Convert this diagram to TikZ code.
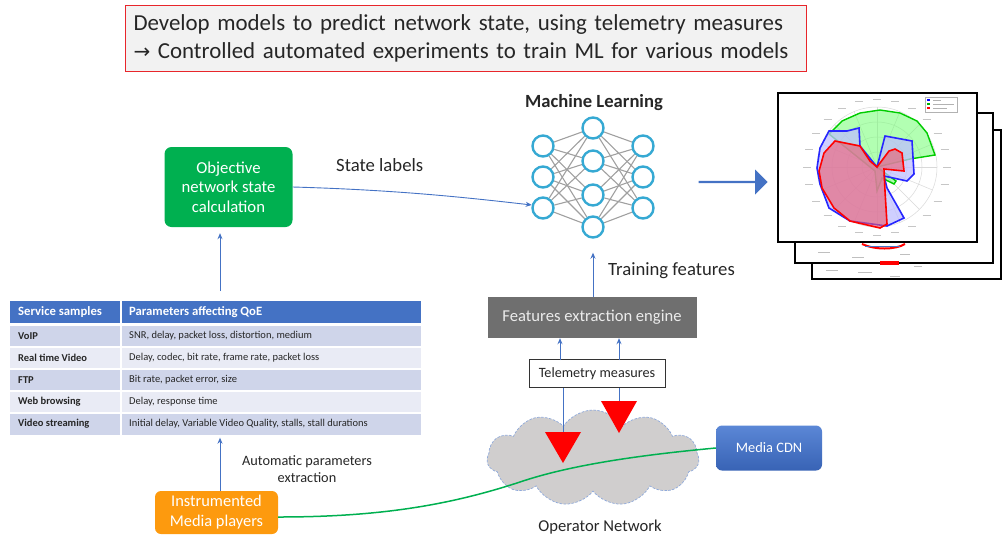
\documentclass[tikz,border=0pt]{standalone}
\usepackage{fontspec}
\setmainfont{Carlito}
\newfontfamily\symfont{DejaVu Sans}
\usetikzlibrary{shapes.symbols,shapes.arrows,shapes.geometric,arrows.meta,backgrounds}
\definecolor{goalfill}{HTML}{F2F2F2}
\definecolor{goalred}{HTML}{E8262B}
\definecolor{okgreen}{HTML}{00B050}
\definecolor{orangebox}{HTML}{FD9A0E}
\definecolor{accblue}{HTML}{4472C4}
\definecolor{accblueL}{HTML}{5B87D6}
\definecolor{accblueD}{HTML}{3863B5}
\definecolor{featgray}{HTML}{6F6F6F}
\definecolor{cloudgray}{HTML}{D0CECE}
\definecolor{cloudedge}{HTML}{8EA9DB}
\definecolor{bandA}{HTML}{CFD5EA}
\definecolor{bandB}{HTML}{E9EBF5}
\definecolor{neuroncol}{HTML}{36A9D3}
\definecolor{edgecol}{HTML}{A0A0A0}
\definecolor{txtdark}{HTML}{262626}
\tikzset{
  conn/.style={draw=accblue, line width=0.9pt, -{Stealth[length=6pt,width=5pt]}},
  plainconn/.style={draw=accblue, line width=0.9pt},
  roundbox/.style={rounded corners=7pt, text=white, align=center, inner sep=0pt},
  neuron/.style={circle, draw=neuroncol, line width=2.4pt, fill=white, minimum size=21pt, inner sep=0pt},
  nnedge/.style={draw=edgecol, line width=1.1pt},
  cellhead/.style={anchor=west, text=white, font=\fontsize{12.7}{14}\selectfont\bfseries, inner sep=0pt},
  cellkey/.style={anchor=west, text=txtdark, font=\fontsize{10.5}{12}\selectfont\bfseries, inner sep=0pt},
  cellval/.style={anchor=west, text=txtdark, font=\fontsize{10.5}{12}\selectfont, inner sep=0pt},
  lbl/.style={text=txtdark, inner sep=0pt},
  bigfont/.style={font=\fontsize{18.7}{22}\selectfont},
  page/.style={draw=black, line width=1.1pt, fill=white},
  redtri/.style={fill=red},
}
\begin{document}
\begin{tikzpicture}[x=1pt,y=-1pt]
\useasboundingbox (0,0) rectangle (1003,539);

% ---------- goal box ----------
\node[draw=goalred, line width=1pt, fill=goalfill, anchor=north west,
      minimum width=681pt, minimum height=66pt, text width=665pt, inner xsep=8pt,
      align=left, font=\fontsize{22.9}{28}\selectfont, text=txtdark] (goal) at (125,5)
  {Develop models to predict network state, using telemetry measures\\
   {\symfont\fontsize{20}{28}\selectfont →} Controlled automated experiments to train ML for various models};

% ---------- objective box ----------
\node[roundbox, fill=okgreen, minimum width=128pt, minimum height=80pt,
      font=\fontsize{16.7}{19.5}\selectfont] (obj) at (228.5,187)
  {Objective\\network state\\calculation};
\node[lbl, bigfont, anchor=west] (statelbl) at (336,165) {State labels};

% ---------- neural network ----------
\node[font=\fontsize{18.6}{22}\selectfont\bfseries, lbl] (mltitle) at (594,103) {Machine Learning};
\node[neuron] (l1) at (543,146) {};
\node[neuron] (l2) at (543,177) {};
\node[neuron] (l3) at (543,208) {};
\node[neuron] (m1) at (593,128) {};
\node[neuron] (m2) at (593,161) {};
\node[neuron] (m3) at (593,195) {};
\node[neuron] (m4) at (593,227) {};
\node[neuron] (r1) at (643,146) {};
\node[neuron] (r2) at (643,177) {};
\node[neuron] (r3) at (643,208) {};
\begin{scope}[on background layer]
\foreach \a in {l1,l2,l3} \foreach \b in {m1,m2,m3,m4} \draw[nnedge] (\a) -- (\b);
\foreach \a in {r1,r2,r3} \foreach \b in {m1,m2,m3,m4} \draw[nnedge] (\a) -- (\b);
\end{scope}

\draw[conn] (obj.east) .. controls (400,190) and (470,198) .. (l3.165);

% ---------- block arrow ----------
\node[single arrow, fill=accblue, minimum width=25pt, minimum height=69pt,
      single arrow head extend=2pt, single arrow tip angle=90, inner sep=0pt] (bigarrow) at (732.5,182) {};

% ---------- radar chart pages ----------
\draw[page] (812,130) rectangle (1001,279);
\draw[page] (795,113) rectangle (993,263);
\fill[red] (880,261) rectangle (899,265);
\draw[red, line width=2pt] (862,244) .. controls (875,250) and (895,250) .. (905,244);
\draw[accblue, line width=1pt] (865,246) -- (900,246);
\draw[gray!50, line width=0.8pt] (818,252) -- (830,252) (852,257) -- (864,257) (900,254) -- (910,254)
  (826,270) -- (838,270) (858,272) -- (872,272) (890,276) -- (900,276) (914,266) -- (922,266);
\draw[page] (778,93) rectangle (977,242);

\begin{scope}[shift={(877,167)}]
  \foreach \r in {15,30,45,60} \draw[gray!30, line width=0.5pt] (0,0) circle[radius=\r];
  \foreach \a in {0,22.5,...,337.5} \draw[gray!30, line width=0.5pt] (0,0) -- ({60*cos(\a)},{60*sin(\a)});
  \filldraw[fill=green!55!white, fill opacity=0.55, draw=green!80!black, line width=1.4pt, draw opacity=1]
    (-48,-33) -- (-35,-46) -- (-17,-54) -- (3,-57) -- (23,-54) -- (40,-46) -- (50,-34) -- (58,-12)
    -- (33,-8) -- (0,0) -- (19,14) -- (17,17) -- (5,11) -- (0,24) -- (-2,4) -- cycle;
  \filldraw[fill=blue!25!white, fill opacity=0.75, draw=blue!85!white, line width=1.6pt]
    (-48,-36) -- (-30,-36) -- (-18,-39) -- (-17,-21) -- (0,0) -- (8,-31) -- (35,-26) -- (37,7)
    -- (30,14) -- (7,9) -- (10,21) -- (27,51) -- (10,59) -- (-27,54) -- (-48,41) -- (-57,17)
    -- (-60,1) -- (-57,-19) -- cycle;
  \filldraw[fill=red!55!purple!65!white, fill opacity=0.6, draw=red, line width=1.6pt]
    (-53,-14) -- (-42,-26) -- (-17,-21) -- (-7,-6) -- (0,0) -- (12,-16) -- (18,-18) -- (25,-14)
    -- (27,4) -- (7,2) -- (8,24) -- (10,57) -- (3,61) -- (-27,54) -- (-43,41) -- (-55,21)
    -- (-58,4) -- cycle;
  \foreach \a in {0,15,...,345}
    \draw[gray!45, line width=0.7pt] ({70*cos(\a)-4},{68*sin(\a)}) -- ({70*cos(\a)+4},{68*sin(\a)});
  \draw[gray!60, line width=0.5pt, fill=white] (48,-70) rectangle (80,-55);
  \fill[blue] (50,-68) rectangle (53,-66);
  \fill[green!70!black] (50,-64) rectangle (53,-62);
  \fill[red] (50,-60) rectangle (53,-58);
  \draw[gray!60, line width=0.8pt] (56,-67) -- (64,-67) (56,-63) -- (77,-63) (56,-59) -- (70,-59);
\end{scope}

% ---------- training features ----------
\node[lbl, bigfont, anchor=west] (trainlbl) at (608,271) {Training features};
\node[fill=featgray, minimum width=209pt, minimum height=41pt, inner sep=0pt,
      text=white!92!black, font=\fontsize{16.6}{19}\selectfont] (feat) at (592,317.5) {Features extraction engine};
\draw[conn, shorten >=14pt] (feat.north -| m4) -- (m4.south);

% ---------- telemetry ----------
\node[draw=black!80, line width=0.9pt, fill=white, minimum width=136pt, minimum height=28pt,
      inner sep=0pt, font=\fontsize{14.2}{16}\selectfont, text=txtdark] (tele) at (597,373.5) {Telemetry measures};
\coordinate (u1) at (560,360);
\coordinate (u2) at (619,360);
\draw[conn] (u1) -- (u1 |- feat.south);
\draw[conn] (u2) -- (u2 |- feat.south);

% ---------- operator network ----------
\node[cloud, cloud puffs=11, cloud puff arc=115, aspect=2.2, minimum width=212pt, minimum height=96pt,
      fill=cloudgray, draw=cloudedge, dash pattern=on 2.5pt off 1.5pt, line width=0.7pt, inner sep=0pt] (net) at (593,458) {};
\node[lbl, font=\fontsize{16.6}{19}\selectfont] (netlbl) at (600,527) {Operator Network};

\node[roundbox, rounded corners=6pt, top color=accblueL, bottom color=accblueD, minimum width=106pt, minimum height=45pt,
      font=\fontsize{14.4}{17}\selectfont] (cdn) at (769,448) {Media CDN};

\node[roundbox, rounded corners=6pt, fill=orangebox, minimum width=123pt, minimum height=43pt,
      font=\fontsize{16.4}{20}\selectfont] (ins) at (216.5,512.5) {Instrumented\\Media players};

\coordinate (mid) at (520,482);
\draw[okgreen, line width=1.5pt] ([yshift=-4.5pt]ins.east) .. controls (380,517) and (450,505) .. (mid)
  .. controls (570,465) and (640,455) .. (cdn.west);

\coordinate (t1) at (563,432);
\coordinate (t2) at (619,401);
\draw[plainconn] (t1) -- (t1 |- tele.south);
\draw[plainconn] (t2) -- (t2 |- tele.south);
\fill[redtri] (545,432) -- (581,432) -- (563,463) -- cycle;
\fill[redtri] (601,401) -- (637,401) -- (619,433) -- cycle;

% ---------- table ----------
\fill[accblue] (10,301) rectangle (421,323);
\fill[bandA] (10,325.5) rectangle (421,346);
\fill[bandB] (10,347.5) rectangle (421,368);
\fill[bandA] (10,369.5) rectangle (421,390);
\fill[bandB] (10,391.5) rectangle (421,412);
\fill[bandA] (10,413.5) rectangle (421,434.5);
\draw[white, line width=1.6pt] (121,301) -- (121,434.5);
\node[inner sep=0pt, minimum width=411pt, minimum height=133.5pt] (tbl) at (215.5,367.75) {};
\node[cellhead] (h1) at (18,312) {Service samples};
\node[cellhead] (h2) at (129,312) {Parameters affecting QoE};
\node[cellkey] (k1) at (18,335.7) {VoIP};
\node[cellval] (v1) at (129,335.7) {SNR, delay, packet loss, distortion, medium};
\node[cellkey] (k2) at (18,357.7) {Real time Video};
\node[cellval] (v2) at (129,357.7) {Delay, codec, bit rate, frame rate, packet loss};
\node[cellkey] (k3) at (18,379.7) {FTP};
\node[cellval] (v3) at (129,379.7) {Bit rate, packet error, size};
\node[cellkey] (k4) at (18,401.7) {Web browsing};
\node[cellval] (v4) at (129,401.7) {Delay, response time};
\node[cellkey] (k5) at (18,424) {Video streaming};
\node[cellval] (v5) at (129,424) {Initial delay, Variable Video Quality, stalls, stall durations};

\coordinate (tt) at (220,291);
\draw[conn, shorten >=6pt] (tt) -- (tt |- obj.south);
\coordinate (ib) at (220,491);
\draw[conn, shorten >=3pt] (ib) -- (ib |- tbl.south);

\node[lbl, font=\fontsize{14.3}{17.5}\selectfont, align=center] (autolbl) at (307,469) {Automatic parameters\\extraction};
\end{tikzpicture}
\end{document}
